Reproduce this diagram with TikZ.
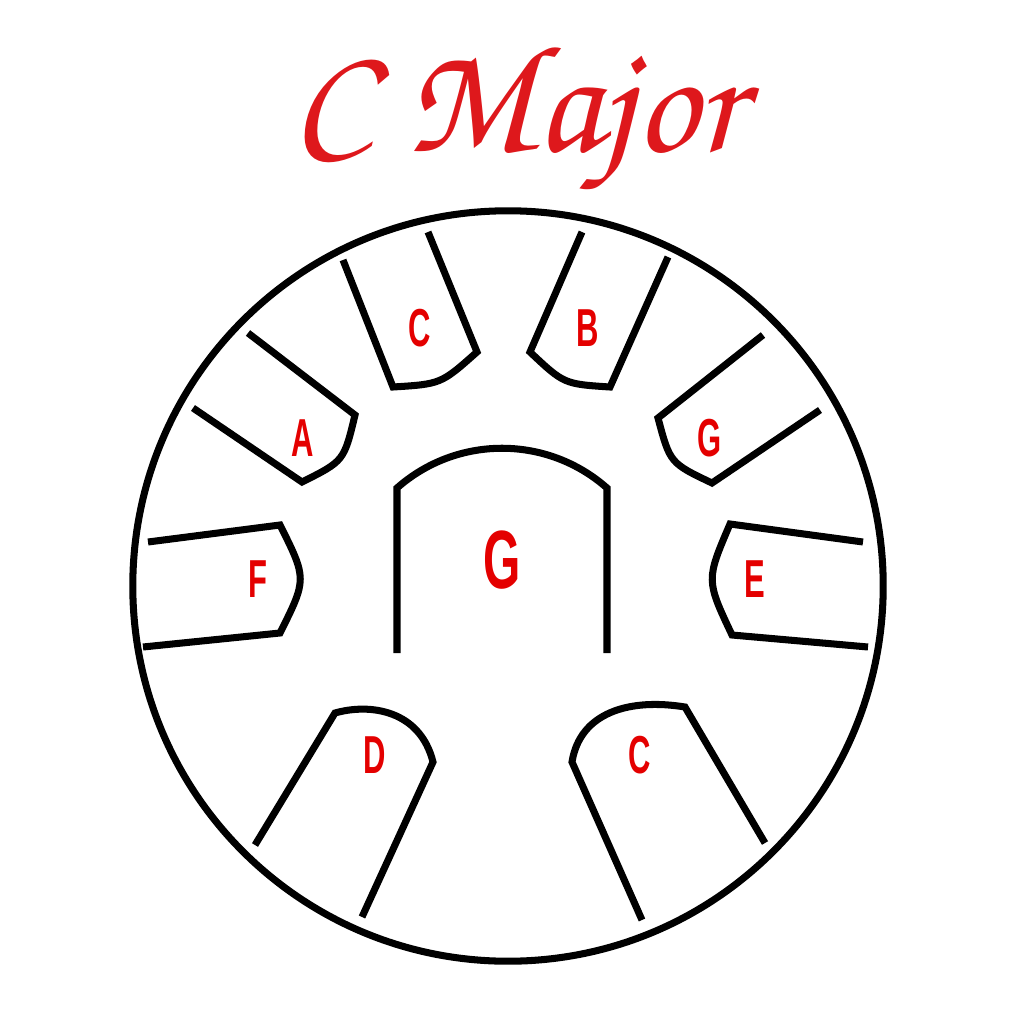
\documentclass[tikz,border=0pt]{standalone}
\usepackage[T1]{fontenc}
\usepackage{fontspec}
\newfontfamily\tonefont{Liberation Sans}[FakeStretch=0.58]
\definecolor{tonered}{RGB}{228,0,0}
\definecolor{titlered}{RGB}{222,24,28}

\begin{document}
\begin{tikzpicture}[x=0.01cm,y=-0.01cm,
  tongue/.style={line width=2pt},
  tone/.style={text=tonered,inner sep=0pt,
    font=\tonefont\bfseries\fontsize{15.2}{16}\selectfont},
  ]
\useasboundingbox (0,0) rectangle (1024,1024);
\node[text=titlered,font=\fontencoding{T1}\fontfamily{pzc}\fontsize{44}{44}\selectfont] 
  (title) at (517,120) {C Major};
% the drum
\draw[tongue] (508,586) circle[radius=3.75cm];
% tongues, from the upper left round to the bottom
\draw[tongue] (343,260) -- (393,387) .. controls (441,384) .. (477,352) -- (428,232);
\draw[tongue] (582,232) -- (530,352) .. controls (564,384) .. (610,387) -- (668,257);
\draw[tongue] (248,333) -- (355,415) .. controls (344,461) .. (302,482) -- (193,408);
\draw[tongue] (763,335) -- (658,418) .. controls (670,463) .. (712,483) -- (820,410);
\draw[tongue] (148,542) -- (280,525) .. controls (307,579) .. (280,633) -- (143,647);
\draw[tongue] (863,542) -- (730,524) .. controls (706,580) .. (732,635) -- (868,647);
\draw[tongue] (255,845) -- (335,713) .. controls (370,703) and (420,710) .. (433,762) -- (362,917);
\draw[tongue] (642,920) -- (572,762) .. controls (580,712) and (630,698) .. (685,707) -- (765,843);
\draw[tongue] (397,653) -- (397,488) .. controls (457,435) and (547,435) .. (607,488) -- (607,653);
% note names
\node[tone] (c5) at (420,328) {C};
\node[tone] (b4) at (588,328) {B};
\node[tone] (a4) at (303,438) {A};
\node[tone] (g4) at (710,438) {G};
\node[tone] (f4) at (258,579) {F};
\node[tone] (e4) at (755,579) {E};
\node[tone] (d4) at (375,755) {D};
\node[tone] (c4) at (640,755) {C};
\node[tone,font=\tonefont\bfseries\fontsize{23.5}{24}\selectfont] (g3) at (502,560) {G};
\end{tikzpicture}
\end{document}
